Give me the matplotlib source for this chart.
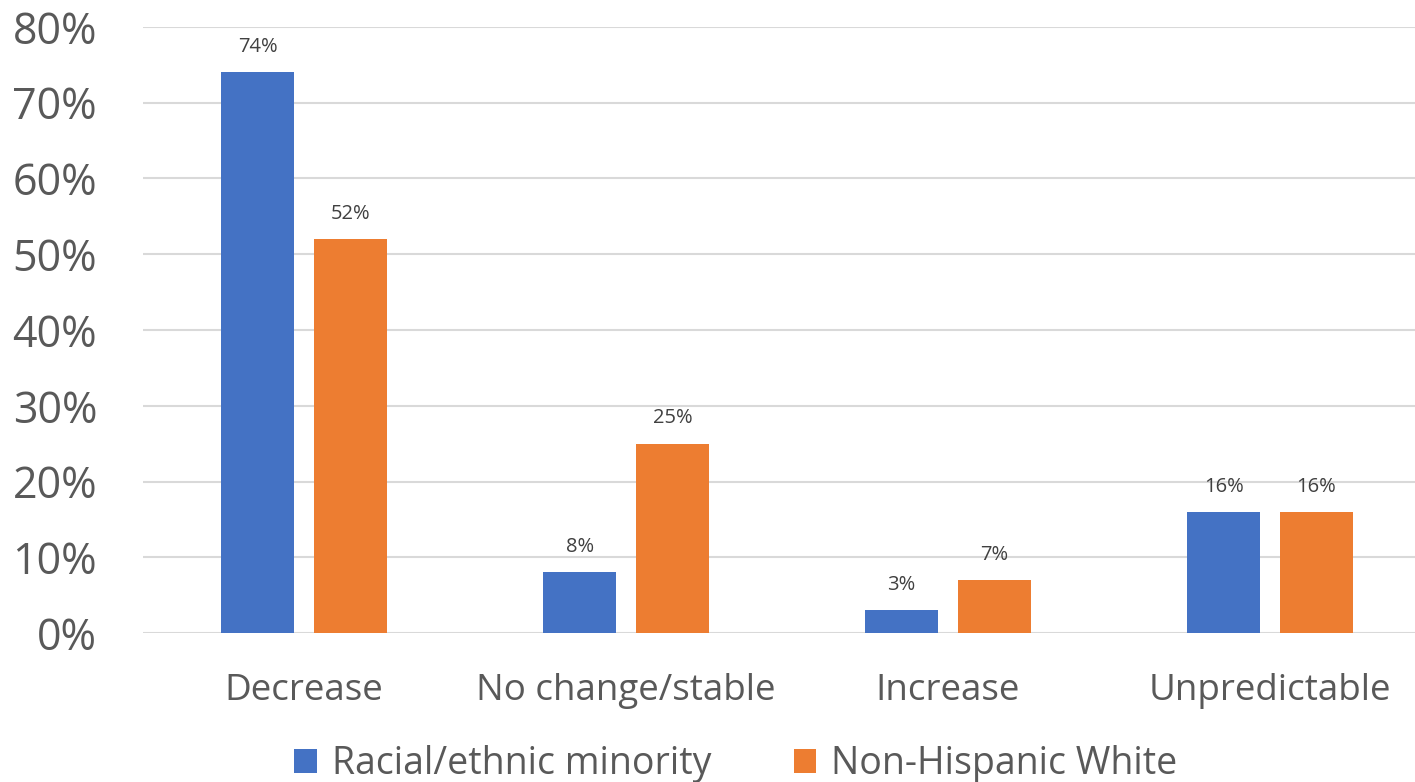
import matplotlib
matplotlib.use("Agg")
import matplotlib.pyplot as plt
import numpy as np

plt.rcParams["font.family"] = ["Open Sans", "DejaVu Sans"]

categories = ["Decrease", "No change/stable", "Increase", "Unpredictable"]
minority = [74, 8, 3, 16]
white = [52, 25, 7, 16]
series_names = ["Racial/ethnic minority", "Non-Hispanic White"]
yticks = [0, 10, 20, 30, 40, 50, 60, 70, 80]

blue = "#4472C4"
orange = "#ED7D31"

fig = plt.figure(figsize=(14.15, 7.82), dpi=100)
ax = fig.add_axes([0.101, 0.1905, 0.899, 0.775])

x = np.arange(len(categories))
w = 0.227
off = 0.144
b1 = ax.bar(x - off, minority, w, color=blue, label=series_names[0], zorder=3)
b2 = ax.bar(x + off, white, w, color=orange, label=series_names[1], zorder=3)

for bars, vals in ((b1, minority), (b2, white)):
    for rect, v in zip(bars, vals):
        ax.annotate(f"{v}%", (rect.get_x() + rect.get_width() / 2, v),
                    xytext=(0, 11), textcoords="offset points",
                    ha="center", va="bottom", fontsize=14.5, color="#404040")

ax.set_xlim(-0.5, 3.45)
ax.set_ylim(0, 80)
ax.set_yticks(yticks)
ax.set_yticklabels([f"{t}%" for t in yticks])
ax.set_xticks(x)
ax.set_xticklabels(categories)
ax.tick_params(axis="y", length=0, pad=33, labelsize=31, labelcolor="#595959")
ax.tick_params(axis="x", length=0, pad=29, labelsize=26.5, labelcolor="#595959")
ax.grid(axis="y", color="#D9D9D9", linewidth=1.5, zorder=0)
for s in ax.spines.values():
    s.set_visible(False)

leg = fig.legend(loc="lower center", bbox_to_anchor=(0.52, -0.045), ncol=2,
                 frameon=False, fontsize=27, handlelength=0.6, handleheight=0.6,
                 handletextpad=0.4, columnspacing=2.2)
for t in leg.get_texts():
    t.set_color("#595959")

fig.savefig("out.png", dpi=100)
